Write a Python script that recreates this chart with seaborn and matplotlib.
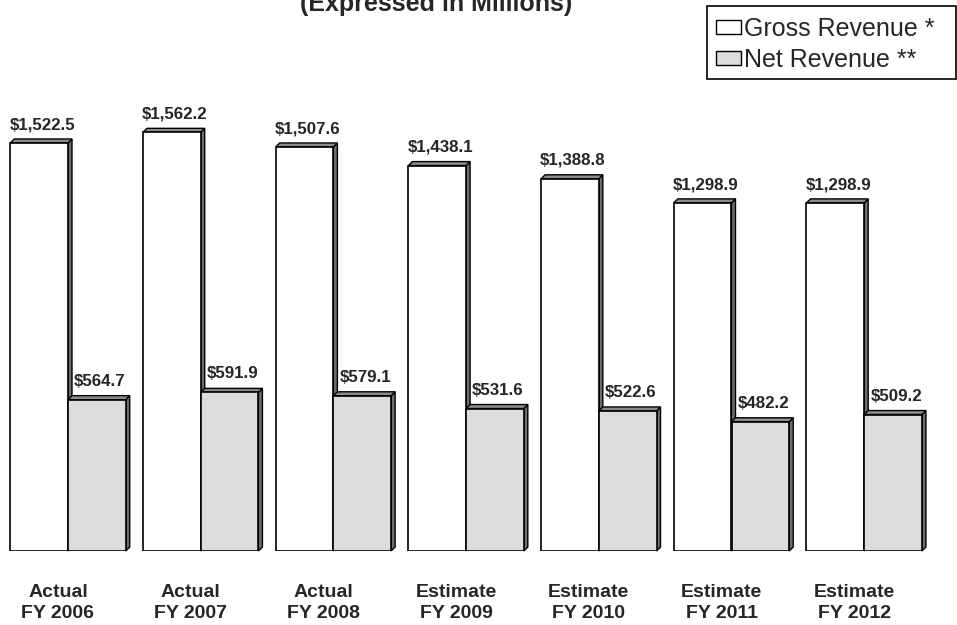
import numpy as np
import pandas as pd
import matplotlib
matplotlib.use("Agg")
import matplotlib.pyplot as plt
from matplotlib.patches import Polygon, Patch, Rectangle
import seaborn as sns

# ---- data (millions of dollars) ----
periods = ["Actual\nFY 2006", "Actual\nFY 2007", "Actual\nFY 2008",
           "Estimate\nFY 2009", "Estimate\nFY 2010", "Estimate\nFY 2011",
           "Estimate\nFY 2012"]
gross_revenue = [1522.5, 1562.2, 1507.6, 1438.1, 1388.8, 1298.9, 1298.9]
net_revenue = [564.7, 591.9, 579.1, 531.6, 522.6, 482.2, 509.2]
series_names = ["Gross Revenue *", "Net Revenue **"]
series_colors = ["#ffffff", "#dcdcdc"]

df = pd.DataFrame({
    "period": periods * 2,
    "series": [series_names[0]] * len(periods) + [series_names[1]] * len(periods),
    "value": gross_revenue + net_revenue,
})

sns.set_style("white")
plt.rcParams["font.family"] = ["Liberation Sans", "DejaVu Sans"]

W, H = 957, 625
fig = plt.figure(figsize=(W / 100, H / 100), dpi=100)
ax = fig.add_axes([0, 74 / H, 1, 551 / H])

sns.barplot(data=df, x="period", y="value", hue="series",
            hue_order=series_names, palette=series_colors, order=periods,
            width=0.87, edgecolor="black", linewidth=1.2, legend=False,
            ax=ax)

ax.set_xlim(-68 / 132.7, (W - 68) / 132.7)
ax.set_ylim(0, 551 / 0.268)
for s in ax.spines.values():
    s.set_visible(False)
ax.set_yticks([])
ax.set_xlabel("")
ax.set_ylabel("")

# category labels sit slightly left of each group's centre
shift = 10 / 132.7
ax.set_xticks(np.arange(len(periods)) - shift)
ax.set_xticklabels(periods, fontsize=14, fontweight="bold", linespacing=1.3)
ax.tick_params(axis="x", length=0, pad=23.5)

# pixel -> data conversion for the extruded 3-D faces
inv = ax.transData.inverted()
p0 = inv.transform((0, 0))
p1 = inv.transform((4, 4))
ddx, ddy = p1[0] - p0[0], p1[1] - p0[1]

bars = list(ax.patches)
n = len(periods)
for i, bar in enumerate(bars):
    grp = i // n
    base_z = 2 + grp
    x0 = bar.get_x()
    x1 = x0 + bar.get_width()
    top = bar.get_height()
    bar.set_zorder(base_z + 0.5)
    side = Polygon([(x1, 0), (x1 + ddx, ddy), (x1 + ddx, top + ddy), (x1, top)],
                   closed=True, facecolor="#6e6e6e", edgecolor="black",
                   linewidth=1.0, zorder=base_z, clip_on=False)
    lid = Polygon([(x0, top), (x0 + ddx, top + ddy), (x1 + ddx, top + ddy), (x1, top)],
                  closed=True, facecolor="#8c8c8c", edgecolor="black",
                  linewidth=1.0, zorder=base_z, clip_on=False)
    ax.add_patch(side)
    ax.add_patch(lid)
    ax.annotate(f"${top:,.1f}", xy=((x0 + x1) / 2, top), xytext=(2.2, 10),
                textcoords="offset points", ha="center", va="baseline",
                fontsize=12.2, fontweight="bold", zorder=10)

# heading (its upper part runs past the top edge)
fig.text(436 / W, 1 - 11 / H, "(Expressed in Millions)", ha="center",
         va="baseline", fontsize=18, fontweight="bold")

# legend with a square black frame
handles = [Patch(facecolor=c, edgecolor="black", linewidth=1.0, label=s)
           for s, c in zip(series_names, series_colors)]
fig.legend(handles=handles, loc="upper left",
           bbox_to_anchor=(716 / W, 1 - 17 / H), frameon=False, fontsize=18,
           handlelength=1.0, handleheight=0.48, handletextpad=0.1,
           labelspacing=0.29, borderpad=0, borderaxespad=0)
fig.patches.append(Rectangle((707 / W, 1 - 79 / H), (956 - 707) / W, 73 / H,
                             transform=fig.transFigure, fill=False,
                             edgecolor="black", linewidth=1.2))

fig.savefig("out.png", dpi=100)
